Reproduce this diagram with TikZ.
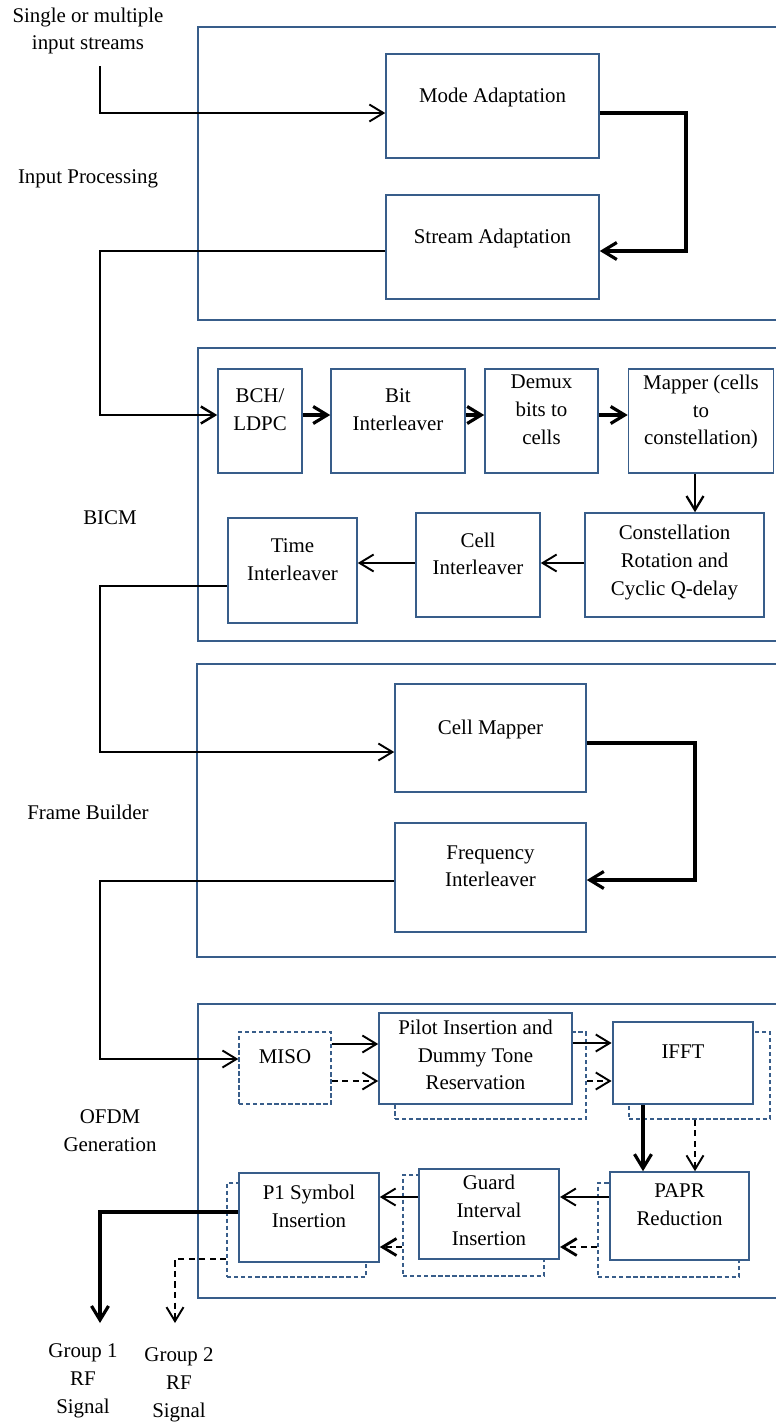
\documentclass[tikz,border=0pt]{standalone}
\usepackage{fontspec}
\setmainfont{Liberation Serif}
\usetikzlibrary{arrows.meta}
\definecolor{wordblue}{HTML}{385D8A}
\begin{document}
\begin{tikzpicture}[x=0.02cm, y=-0.02cm,
  every node/.style={font=\fontsize{11.9}{15.8}\selectfont, align=center, inner sep=0pt},
  section/.style={draw=wordblue, line width=1.2pt},
  blk/.style={draw=wordblue, line width=0.9pt, fill=white, text depth=0.45cm},
  ghost/.style={draw=wordblue, line width=0.8pt, dash pattern=on 2.5pt off 1.5pt, fill=white},
  arr/.style={line width=1.1pt, -{Straight Barb[length=2.8mm,width=3.4mm]}},
  fat/.style={line width=1.8pt},
  dsh/.style={dash pattern=on 3.5pt off 2.5pt}]
\useasboundingbox (0,0) rectangle (776,1423);
\clip (0,0) rectangle (776,1423);
\coordinate (in) at (100,66);
\coordinate (k1) at (686,251);
\coordinate (k2) at (100,415);
\coordinate (k3) at (100,752);
\coordinate (k4) at (695,880);
\coordinate (k5) at (100,1059);
\coordinate (out1) at (100,1323);
\coordinate (out2) at (175,1323);

  \draw[section] (198,27) rectangle (830,320);
  \draw[section] (198,348) rectangle (830,641);
  \draw[section] (197,664) rectangle (830,957);
  \draw[section] (198,1004) rectangle (830,1298);

  \node (src) at (88,31) {Single or multiple\\input streams};
  \node (inproc) at (88,179) {Input Processing};
  \node (bicm) at (110,518) {BICM};
  \node (frame) at (88,812) {Frame Builder};
  \node (ofdm) at (110,1131) {OFDM\\Generation};
  \node (grp1) at (83,1381) {Group 1\\RF\\Signal};
  \node (grp2) at (179,1385) {Group 2\\RF\\Signal};

  \node (mode) at (492.5,106) [blk,minimum width=4.26cm,minimum height=2.08cm] {Mode Adaptation};
  \node (stream) at (492.5,247) [blk,minimum width=4.26cm,minimum height=2.08cm] {Stream Adaptation};

  \node (bch) at (260,421) [blk,minimum width=1.68cm,minimum height=2.08cm] {BCH/\\LDPC};
  \node (bit) at (398,421) [blk,minimum width=2.68cm,minimum height=2.08cm] {Bit\\Interleaver};
  \node (demux) at (541.5,421) [blk,minimum width=2.26cm,minimum height=2.08cm] {Demux\\bits to\\cells};
  \node (mapper) at (701,421) [blk,minimum width=2.9cm,minimum height=2.08cm] {Mapper (cells\\to\\constellation)};
  \node (const) at (674.5,565) [blk,text depth=0.2cm,minimum width=3.58cm,minimum height=2.08cm] {Constellation\\Rotation and\\Cyclic Q-delay};
  \node (cell) at (478,565) [blk,minimum width=2.48cm,minimum height=2.08cm] {Cell\\Interleaver};
  \node (time) at (292.5,570.5) [blk,minimum width=2.58cm,minimum height=2.1cm] {Time\\Interleaver};

  \node (cellmap) at (490.5,738) [blk,minimum width=3.82cm,minimum height=2.16cm] {Cell Mapper};
  \node (freq) at (490.5,877.5) [blk,minimum width=3.82cm,minimum height=2.18cm] {Frequency\\Interleaver};

  \node (pilot2) at (490.5,1075.5) [ghost,minimum width=3.82cm,minimum height=1.74cm] {};
  \node (ifft2) at (699.5,1075.5) [ghost,minimum width=2.82cm,minimum height=1.74cm] {};
  \node (papr2) at (668.5,1230) [ghost,minimum width=2.82cm,minimum height=1.88cm] {};
  \node (guard2) at (473.5,1225.5) [ghost,minimum width=2.82cm,minimum height=2.02cm] {};
  \node (p12) at (296.5,1230) [ghost,minimum width=2.78cm,minimum height=1.88cm] {};

  \node (miso) at (285,1068) [ghost,text depth=0.45cm,minimum width=1.84cm,minimum height=1.44cm] {MISO};
  \node (pilot) at (475.5,1058.5) [blk,text depth=0.15cm,minimum width=3.86cm,minimum height=1.82cm] {Pilot Insertion and\\Dummy Tone\\Reservation};
  \node (ifft) at (683,1063) [blk,line width=1.6pt,minimum width=2.8cm,minimum height=1.64cm] {IFFT};
  \node (papr) at (679.5,1216) [blk,minimum width=2.78cm,minimum height=1.76cm] {PAPR\\Reduction};
  \node (guard) at (489,1214) [blk,line width=1.2pt,text depth=0.15cm,minimum width=2.8cm,minimum height=1.8cm] {Guard\\Interval\\Insertion};
  \node (p1) at (309,1217.5) [blk,minimum width=2.8cm,minimum height=1.78cm] {P1 Symbol\\Insertion};

  \draw[arr] (in) |- (mode.west |- 0,113);
  \draw[arr,fat] (mode.east |- 0,113) -| (k1) -- (stream.east |- k1);
  \draw[arr,line width=1.4pt] (stream.west |- 0,251) -| (k2) -- (bch.west |- k2);
  \draw[arr,fat] (bch.east |- k2) -- (bit.west |- k2);
  \draw[arr,fat] (bit.east |- k2) -- (demux.west |- k2);
  \draw[arr,fat] (demux.east |- k2) -- (mapper.west |- k2);
  \draw[arr,line width=1.3pt] (mapper.south -| 695,0) -- (const.north -| 695,0);
  \draw[arr] (const.west |- 0,563) -- (cell.east |- 0,563);
  \draw[arr] (cell.west |- 0,563) -- (time.east |- 0,563);
  \draw[arr] (time.west |- 0,586) -| (k3) -- (cellmap.west |- k3);
  \draw[arr,fat] (cellmap.east |- 0,743) -| (k4) -- (freq.east |- k4);
  \draw[arr] (freq.west |- 0,881) -| (k5) -- (miso.west |- k5);

  \draw[arr] (miso.east |- 0,1044) -- (pilot.west |- 0,1044);
  \draw[arr,dsh] (miso.east |- 0,1081) -- (pilot.west |- 0,1081);
  \draw[arr] (pilot.east |- 0,1043) -- (ifft.west |- 0,1043);
  \draw[arr,dsh] (pilot2.east |- 0,1081) -- (ifft.west |- 0,1081);
  \draw[arr,fat] (ifft.south -| 643,0) -- (papr.north -| 643,0);
  \draw[arr,dsh] (ifft2.south -| 695,0) -- (papr.north -| 695,0);
  \draw[arr] (papr.west |- 0,1197) -- (guard.east |- 0,1197);
  \draw[arr,dsh,line width=1.6pt] (papr2.west |- 0,1247) -- (guard.east |- 0,1247);
  \draw[arr] (guard.west |- 0,1197) -- (p1.east |- 0,1197);
  \draw[arr,dsh,line width=1.6pt] (guard2.west |- 0,1247) -- (p1.east |- 0,1247);
  \draw[arr,fat] (p1.west |- 0,1212) -| (out1);
  \draw[arr,dsh] (p12.west |- 0,1259) -| (out2);
\end{tikzpicture}
\end{document}
